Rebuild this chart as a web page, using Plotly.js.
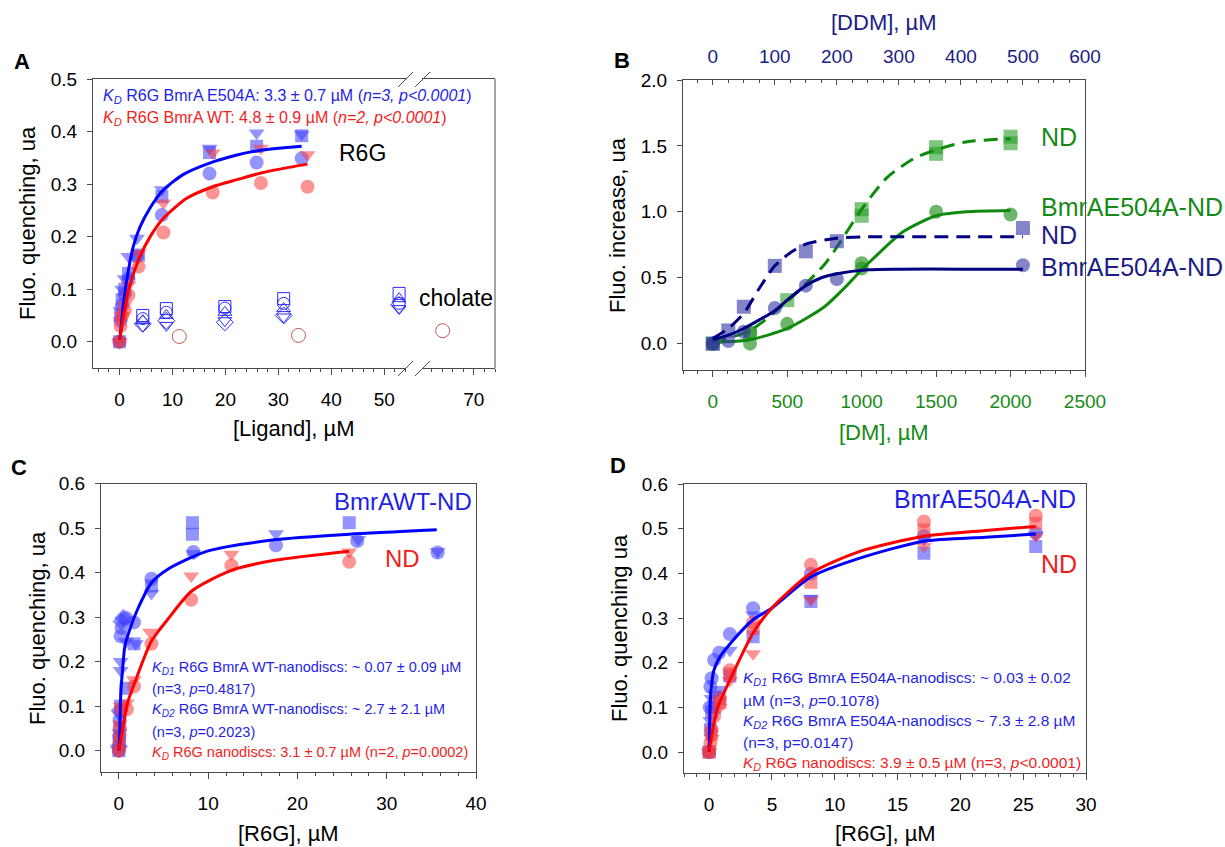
<!DOCTYPE html>
<html><head><meta charset="utf-8">
<script src="https://cdn.plot.ly/plotly-3.0.1.min.js"></script>
<style>html,body{margin:0;padding:0;background:#fff}#chart{width:1225px;height:847px}</style>
</head><body><div id="chart"></div>
<script>
// ---------- Panel A data : [Ligand] (µM) vs fluo quenching ----------
const A_E504A_x_circ = [0, 0.2, 0.5, 1.0, 1.7, 3.3, 8, 17, 25.9, 34.4];
const A_E504A_y_circ = [0, 0.04, 0.07, 0.09, 0.12, 0.162, 0.241, 0.32, 0.341, 0.349];
const A_E504A_x_sq   = [0, 0.2, 0.5, 1.0, 1.7, 3.6, 8, 17, 25.9, 34.4];
const A_E504A_y_sq   = [0, 0.05, 0.08, 0.10, 0.13, 0.165, 0.276, 0.36, 0.372, 0.392];
const A_E504A_x_tri  = [0, 0.2, 0.5, 1.0, 1.7, 3.3, 8, 17, 25.9, 34.4];
const A_E504A_y_tri  = [0, 0.06, 0.10, 0.12, 0.162, 0.197, 0.289, 0.368, 0.397, 0.395];
const A_WT_x_circ = [0, 0.2, 0.5, 1.0, 1.7, 3.6, 8.3, 17.6, 26.7, 35.5];
const A_WT_y_circ = [0, 0.03, 0.05, 0.06, 0.089, 0.143, 0.208, 0.284, 0.302, 0.295];
const A_WT_x_tri  = [0, 0.2, 0.5, 1.0, 1.7, 3.6, 8.3, 17.6, 26.7, 35.5];
const A_WT_y_tri  = [0, 0.04, 0.05, 0.07, 0.108, 0.168, 0.264, 0.359, 0.368, 0.356];
const A_fitE504A_x = [0.05, 0.25, 0.75, 1.7, 2.6, 3.9, 5.8, 8, 12, 17, 22, 25.9, 30, 34.4];
const A_fitE504A_y = [0.005, 0.022, 0.073, 0.137, 0.181, 0.219, 0.255, 0.286, 0.318, 0.34, 0.355, 0.363, 0.368, 0.372];
const A_fitWT_x = [0.05, 0.6, 1.1, 1.7, 3.6, 5.8, 8.3, 12.7, 17.6, 22, 26.7, 30, 35.5];
const A_fitWT_y = [0.003, 0.04, 0.067, 0.098, 0.156, 0.2, 0.235, 0.273, 0.295, 0.308, 0.321, 0.328, 0.338];
const A_chol_x      = [4.4, 8.85, 19.9, 31, 52.8];
const A_chol_sq     = [0.05, 0.063, 0.067, 0.082, 0.092];
const A_chol_circ   = [0.044, 0.056, 0.064, 0.073, 0.073];
const A_chol_triup  = [0.04, 0.05, 0.056, 0.063, 0.082];
const A_chol_dia    = [0.034, 0.04, 0.037, 0.05, 0.07];
const A_chol_tridn  = [0.03, 0.031, 0.04, 0.047, 0.063];
const A_cholWT_x = [11.3, 33.8, 64.1];
const A_cholWT_y = [0.01, 0.012, 0.021];
const A_xticks1 = [0, 10, 20, 30, 40, 50];
const A_xticks2 = [70];

// ---------- Panel B data : detergent (µM) vs fluo increase ----------
const B_DDM_x_sq   = [0, 25, 50, 100, 150, 200, 500];
const B_DDM_y_sq   = [0, 0.10, 0.28, 0.59, 0.70, 0.777, 0.877];
const B_DDM_x_circ = [0, 25, 50, 100, 150, 200, 500];
const B_DDM_y_circ = [0, 0.02, 0.09, 0.27, 0.44, 0.49, 0.595];
const B_DDM_fitND_x = [0, 25, 50, 75, 100, 125, 150, 200, 250, 300, 400, 500];
const B_DDM_fitND_y = [0.04, 0.115, 0.23, 0.42, 0.59, 0.69, 0.755, 0.80, 0.81, 0.81, 0.81, 0.81];
const B_DDM_fitE_x = [0, 25, 50, 75, 100, 125, 150, 175, 200, 250, 300, 400, 500];
const B_DDM_fitE_y = [0.03, 0.064, 0.115, 0.18, 0.25, 0.35, 0.44, 0.5, 0.53, 0.56, 0.565, 0.565, 0.565];
const B_DM_x_sq   = [0, 250, 500, 1000, 1000, 1500, 1500, 2000, 2000];
const B_DM_y_sq   = [0, 0.08, 0.33, 1.02, 0.97, 1.49, 1.44, 1.57, 1.52];
const B_DM_x_circ = [0, 250, 250, 500, 1000, 1000, 1500, 2000];
const B_DM_y_circ = [0, 0.0, 0.08, 0.15, 0.61, 0.57, 1.0, 0.98];
const B_DM_fitND_x = [0, 250, 500, 750, 850, 1000, 1170, 1360, 1500, 1700, 2000];
const B_DM_fitND_y = [0.01, 0.1, 0.32, 0.6, 0.76, 1.02, 1.26, 1.41, 1.47, 1.53, 1.555];
const B_DM_fitE_x = [0, 250, 500, 750, 900, 1000, 1120, 1280, 1500, 1700, 2000];
const B_DM_fitE_y = [0.01, 0.03, 0.115, 0.28, 0.44, 0.56, 0.69, 0.85, 0.97, 1.0, 1.01];

// ---------- Panel C data : [R6G] (µM), BmrA WT nanodiscs ----------
const C_WT_x_circ = [0, 0.05, 0.1, 0.2, 0.3, 0.8, 1.7, 3.65, 8.35, 17.6, 26.7, 35.7];
const C_WT_y_circ = [0, 0.03, 0.07, 0.257, 0.276, 0.298, 0.288, 0.386, 0.446, 0.461, 0.471, 0.445];
const C_WT_x_sq   = [0, 0.05, 0.1, 0.2, 0.8, 1.7, 3.65, 8.24, 8.24, 25.8];
const C_WT_y_sq   = [0, 0.02, 0.05, 0.10, 0.14, 0.24, 0.37, 0.512, 0.486, 0.512];
const C_WT_x_tri  = [0, 0.05, 0.1, 0.2, 0.2, 0.8, 1.9, 3.65, 8.35, 17.6, 26.8, 35.7];
const C_WT_y_tri  = [0, 0.04, 0.08, 0.18, 0.20, 0.245, 0.24, 0.353, 0.443, 0.487, 0.474, 0.447];
const C_WT_x_dia  = [0, 0.1, 0.3, 0.5];
const C_WT_y_dia  = [0.01, 0.09, 0.29, 0.298];
const C_ND_x_circ = [0, 0.05, 0.1, 0.2, 0.9, 1.7, 3.65, 8.1, 12.6, 25.8];
const C_ND_y_circ = [0, 0.02, 0.05, 0.093, 0.093, 0.144, 0.24, 0.339, 0.416, 0.424];
const C_ND_x_tri  = [0, 0.05, 0.1, 0.2, 0.9, 1.7, 3.5, 8.1, 12.6, 25.8];
const C_ND_y_tri  = [0, 0.03, 0.06, 0.10, 0.107, 0.159, 0.266, 0.392, 0.441, 0.446];
const C_fitWT_x = [0, 0.075, 0.22, 0.41, 0.67, 1.34, 2.09, 3.65, 5.44, 9.9, 17.6, 25.8, 35.6];
const C_fitWT_y = [0, 0.024, 0.13, 0.18, 0.234, 0.279, 0.317, 0.377, 0.407, 0.448, 0.474, 0.486, 0.496];
const C_fitND_x = [0, 0.41, 0.97, 1.9, 3.65, 5.44, 8.13, 12.6, 17.6, 25.8];
const C_fitND_y = [0, 0.047, 0.107, 0.159, 0.246, 0.294, 0.358, 0.405, 0.428, 0.448];

// ---------- Panel D data : [R6G] (µM), BmrA E504A nanodiscs ----------
const D_E_x_circ = [0, 0.05, 0.1, 0.2, 0.4, 0.8, 1.65, 3.5, 8.1, 17.1, 26];
const D_E_y_circ = [0, 0.10, 0.146, 0.165, 0.206, 0.222, 0.264, 0.322, 0.399, 0.483, 0.49];
const D_E_x_sq   = [0, 0.1, 0.2, 0.4, 0.8, 1.65, 3.5, 8.1, 17.1, 26];
const D_E_y_sq   = [0, 0.05, 0.09, 0.10, 0.12, 0.17, 0.258, 0.337, 0.445, 0.46];
const D_E_x_tri  = [0, 0.1, 0.2, 0.4, 0.8, 1.65, 3.5, 8.1, 17.1, 26];
const D_E_y_tri  = [0, 0.07, 0.12, 0.13, 0.14, 0.228, 0.307, 0.344, 0.475, 0.486];
const D_ND_x_circ = [0, 0.1, 0.2, 0.4, 0.86, 1.65, 3.5, 8.1, 17.1, 26];
const D_ND_y_circ = [0, 0.02, 0.05, 0.08, 0.12, 0.183, 0.29, 0.419, 0.516, 0.529];
const D_ND_x_sq   = [0, 0.2, 0.86, 1.65, 3.5, 8.1, 17.1, 26];
const D_ND_y_sq   = [0, 0.04, 0.11, 0.175, 0.277, 0.38, 0.497, 0.512];
const D_ND_x_tri  = [0, 0.2, 0.86, 1.65, 3.5, 8.1, 17.1, 26];
const D_ND_y_tri  = [0, 0.03, 0.10, 0.16, 0.22, 0.34, 0.46, 0.483];
const D_fitE_x = [0, 0.13, 0.38, 0.86, 1.81, 3.49, 4.98, 8.1, 12, 17.1, 22, 26];
const D_fitE_y = [0, 0.131, 0.183, 0.213, 0.247, 0.296, 0.322, 0.392, 0.434, 0.472, 0.481, 0.488];
const D_fitND_x = [0, 0.32, 0.7, 1.65, 3.49, 4.98, 8.1, 12, 17.1, 22, 26];
const D_fitND_y = [0, 0.056, 0.101, 0.161, 0.266, 0.322, 0.40, 0.449, 0.483, 0.496, 0.505];

// ---------- helpers ----------
const W = 1225, H = 847;
const px = x => x / W;
const py = y => 1 - y / H;
const FONT = 'Liberation Sans, Arial, sans-serif';
const BLUE_M = 'rgba(60,60,255,0.55)', RED_M = 'rgba(250,60,60,0.55)';
const NAVY_M = 'rgba(50,50,165,0.6)', GREEN_M = 'rgba(30,145,30,0.65)';
const BLUE_L = '#0000ff', RED_L = '#ff0000', NAVY_L = '#000080', GREEN_L = '#0f8a0f';
const BLUE_T = '#1f1fe6', RED_T = '#f01e1e', NAVY_T = '#1c1c86', GREEN_T = '#168a16';
const A_BREAK = 57;

function pts(x, y, sym, col, xa, ya, size) {
  return {type: 'scatter', mode: 'markers', x: x, y: y, xaxis: xa, yaxis: ya, hoverinfo: 'skip',
    marker: {symbol: sym, color: col, size: size || 13, line: {width: 0}}};
}
function openPts(x, y, sym, col, xa, ya, size) {
  return {type: 'scatter', mode: 'markers', x: x, y: y, xaxis: xa, yaxis: ya, hoverinfo: 'skip',
    marker: {symbol: sym, color: col, size: size || 12, line: {width: 1, color: col}}};
}
function fit(x, y, col, xa, ya, dash) {
  return {type: 'scatter', mode: 'lines', x: x, y: y, xaxis: xa, yaxis: ya, hoverinfo: 'skip',
    line: {color: col, width: 3, shape: 'spline', smoothing: 0.7, dash: dash || 'solid'}};
}
function splitSeg(xs, ys, lo) {
  const ox = [], oy = [];
  xs.forEach((v, i) => { if ((lo && v < A_BREAK) || (!lo && v >= A_BREAK)) { ox.push(v); oy.push(ys[i]); } });
  return [ox, oy];
}

const traces = [];
traces.push(openPts(A_chol_x, A_chol_sq, 'square-open', '#2a2aff', 'x', 'y', 12));
traces.push(openPts(A_chol_x, A_chol_circ, 'circle-open', '#2a2aff', 'x', 'y', 12));
traces.push(openPts(A_chol_x, A_chol_triup, 'triangle-up-open', '#2a2aff', 'x', 'y', 12));
traces.push(openPts(A_chol_x, A_chol_dia, 'diamond-open', '#2a2aff', 'x', 'y', 13));
traces.push(openPts(A_chol_x, A_chol_tridn, 'triangle-down-open', '#2a2aff', 'x', 'y', 12));
let s1 = splitSeg(A_cholWT_x, A_cholWT_y, true), s2 = splitSeg(A_cholWT_x, A_cholWT_y, false);
traces.push(openPts(s1[0], s1[1], 'circle-open', '#c05a5a', 'x', 'y', 14));
traces.push(openPts(s2[0], s2[1], 'circle-open', '#c05a5a', 'x2', 'y', 14));
traces.push(pts(A_E504A_x_circ, A_E504A_y_circ, 'circle', BLUE_M, 'x', 'y', 14));
traces.push(pts(A_E504A_x_sq, A_E504A_y_sq, 'square', BLUE_M, 'x', 'y', 13));
traces.push(pts(A_E504A_x_tri, A_E504A_y_tri, 'triangle-down', BLUE_M, 'x', 'y', 14));
traces.push(pts(A_WT_x_circ, A_WT_y_circ, 'circle', RED_M, 'x', 'y', 14));
traces.push(pts(A_WT_x_tri, A_WT_y_tri, 'triangle-down', RED_M, 'x', 'y', 14));
traces.push(fit(A_fitE504A_x, A_fitE504A_y, BLUE_L, 'x', 'y'));
traces.push(fit(A_fitWT_x, A_fitWT_y, RED_L, 'x', 'y'));
traces.push(pts(B_DM_x_sq, B_DM_y_sq, 'square', 'rgba(40,160,40,0.6)', 'x3', 'y2', 14));
traces.push(pts(B_DM_x_circ, B_DM_y_circ, 'circle', GREEN_M, 'x3', 'y2', 14));
traces.push(pts(B_DDM_x_sq, B_DDM_y_sq, 'square', NAVY_M, 'x4', 'y2', 14));
traces.push(pts(B_DDM_x_circ, B_DDM_y_circ, 'circle', NAVY_M, 'x4', 'y2', 14));
traces.push(fit(B_DM_fitND_x, B_DM_fitND_y, GREEN_L, 'x3', 'y2', '14px,8px'));
traces.push(fit(B_DM_fitE_x, B_DM_fitE_y, GREEN_L, 'x3', 'y2'));
traces.push(fit(B_DDM_fitND_x, B_DDM_fitND_y, NAVY_L, 'x4', 'y2', '14px,8px'));
traces.push(fit(B_DDM_fitE_x, B_DDM_fitE_y, NAVY_L, 'x4', 'y2'));
traces.push(pts(C_WT_x_sq, C_WT_y_sq, 'square', BLUE_M, 'x5', 'y3', 13));
traces.push(pts(C_WT_x_dia, C_WT_y_dia, 'diamond', BLUE_M, 'x5', 'y3', 14));
traces.push(pts(C_WT_x_circ, C_WT_y_circ, 'circle', BLUE_M, 'x5', 'y3', 14));
traces.push(pts(C_WT_x_tri, C_WT_y_tri, 'triangle-down', BLUE_M, 'x5', 'y3', 14));
traces.push(pts(C_ND_x_circ, C_ND_y_circ, 'circle', RED_M, 'x5', 'y3', 14));
traces.push(pts(C_ND_x_tri, C_ND_y_tri, 'triangle-down', RED_M, 'x5', 'y3', 14));
traces.push(fit(C_fitWT_x, C_fitWT_y, BLUE_L, 'x5', 'y3'));
traces.push(fit(C_fitND_x, C_fitND_y, RED_L, 'x5', 'y3'));
traces.push(pts(D_E_x_sq, D_E_y_sq, 'square', BLUE_M, 'x6', 'y4', 13));
traces.push(pts(D_E_x_circ, D_E_y_circ, 'circle', BLUE_M, 'x6', 'y4', 14));
traces.push(pts(D_E_x_tri, D_E_y_tri, 'triangle-down', BLUE_M, 'x6', 'y4', 14));
traces.push(pts(D_ND_x_sq, D_ND_y_sq, 'square', RED_M, 'x6', 'y4', 13));
traces.push(pts(D_ND_x_circ, D_ND_y_circ, 'circle', RED_M, 'x6', 'y4', 14));
traces.push(pts(D_ND_x_tri, D_ND_y_tri, 'triangle-down', RED_M, 'x6', 'y4', 14));
traces.push(fit(D_fitE_x, D_fitE_y, BLUE_L, 'x6', 'y4'));
traces.push(fit(D_fitND_x, D_fitND_y, RED_L, 'x6', 'y4'));

const LC = '#4a4a4a';
const tickF = (s, c) => ({family: FONT, size: s, color: c || '#000'});
function xax(dom, range, anchor, extra) {
  const o = {range: range, anchor: anchor, showgrid: false, zeroline: false,
    showline: true, linecolor: LC, linewidth: 1, ticks: 'outside', ticklen: 6, tickcolor: LC,
    tickfont: tickF(19), ticklabelstandoff: 6, fixedrange: true};
  if (dom) o.domain = dom;
  return Object.assign(o, extra || {});
}
function yax(dom, range, anchor, extra) {
  return Object.assign({domain: dom, range: range, anchor: anchor, showgrid: false, zeroline: false,
    showline: true, linecolor: LC, linewidth: 1, ticks: 'outside', ticklen: 5, tickcolor: LC,
    tickfont: tickF(19), tickformat: '.1f', ticklabelstandoff: 6, fixedrange: true}, extra || {});
}
const topTicks = (base, range, vals) => xax(null, range, 'y', {overlaying: base, side: 'top', tickmode: 'array',
  tickvals: vals, ticks: 'inside', ticklen: 5, showticklabels: false, showline: false,
  minor: {dtick: 2, tick0: 0, ticks: 'inside', ticklen: 3, tickcolor: LC}});

const layout = {
  width: W, height: H, margin: {l: 0, r: 0, t: 0, b: 0},
  paper_bgcolor: '#fff', plot_bgcolor: 'rgba(0,0,0,0)', showlegend: false,
  font: {family: FONT, color: '#000'},
  xaxis: xax([px(93), px(406)], [-5, 54.1], 'y', {tickmode: 'array', tickvals: A_xticks1, mirror: true,
    minor: {dtick: 2, tick0: 0, ticks: 'outside', ticklen: 3, tickcolor: LC}, ticklabelstandoff: 8}),
  xaxis2: xax([px(422), px(495)], [60.2, 74], 'y', {tickmode: 'array', tickvals: A_xticks2, mirror: true,
    minor: {dtick: 2, tick0: 0, ticks: 'outside', ticklen: 3, tickcolor: LC}, ticklabelstandoff: 8}),
  xaxis7: topTicks('x', [-5, 54.1], A_xticks1),
  xaxis8: topTicks('x2', [60.2, 74], A_xticks2),
  yaxis: yax([py(368), py(79)], [-0.05, 0.5], 'x', {dtick: 0.1, tick0: 0}),
  xaxis3: xax([px(683), px(1085)], [-200, 2500], 'y2', {dtick: 500, tick0: 0, tickfont: tickF(19, GREEN_T),
    minor: {dtick: 100, ticks: 'outside', ticklen: 3, tickcolor: LC}, ticklabelstandoff: 8}),
  xaxis4: xax(null, [-48, 600], 'y2', {overlaying: 'x3', side: 'top', dtick: 100, tick0: 0, ticks: 'inside',
    ticklen: 5, tickfont: tickF(19, NAVY_T), minor: {dtick: 25, ticks: 'inside', ticklen: 3, tickcolor: LC}, ticklabelstandoff: 8}),
  yaxis2: yax([py(370), py(80)], [-0.2, 2.0], 'x3', {dtick: 0.5, tick0: 0, mirror: true}),
  xaxis5: xax([px(101), px(476)], [-2, 40], 'y3', {dtick: 10, tick0: 0, mirror: true,
    minor: {dtick: 2, ticks: 'outside', ticklen: 3, tickcolor: LC}, ticklabelstandoff: 8}),
  yaxis3: yax([py(772), py(483.5)], [-0.048, 0.6], 'x5', {dtick: 0.1, tick0: 0, mirror: true}),
  xaxis6: xax([px(684), px(1086)], [-2, 30], 'y4', {dtick: 5, tick0: 0, mirror: true,
    minor: {dtick: 1, ticks: 'outside', ticklen: 3, tickcolor: LC}, ticklabelstandoff: 8}),
  yaxis4: yax([py(773), py(484)], [-0.047, 0.6], 'x6', {dtick: 0.1, tick0: 0, mirror: true}),
  shapes: [
    {type: 'line', xref: 'paper', yref: 'paper', x0: px(495), x1: px(495), y0: py(79), y1: py(368), line: {color: LC, width: 1}},
    {type: 'line', xref: 'paper', yref: 'paper', x0: px(398), y0: py(87), x1: px(413), y1: py(72), line: {color: LC, width: 1}},
    {type: 'line', xref: 'paper', yref: 'paper', x0: px(415), y0: py(87), x1: px(430), y1: py(72), line: {color: LC, width: 1}},
    {type: 'line', xref: 'paper', yref: 'paper', x0: px(398), y0: py(376), x1: px(413), y1: py(361), line: {color: LC, width: 1}},
    {type: 'line', xref: 'paper', yref: 'paper', x0: px(415), y0: py(376), x1: px(430), y1: py(361), line: {color: LC, width: 1}}
  ],
  annotations: []
};

function ann(text, x, y, opts) {
  layout.annotations.push(Object.assign({text: text, xref: 'paper', yref: 'paper', x: px(x), y: py(y),
    showarrow: false, xanchor: 'left', yanchor: 'middle', font: {family: FONT, size: 15, color: '#000'}}, opts || {}));
}
const f = (s, c) => ({family: FONT, size: s, color: c});
ann('<b>A</b>', 12, 62, {font: f(22, '#000')});
ann('<b>B</b>', 612, 60, {font: f(22, '#000')});
ann('<b>C</b>', 9, 467, {font: f(22, '#000')});
ann('<b>D</b>', 608, 465, {font: f(22, '#000')});
ann('Fluo. quenching, ua', 27, 223, {xanchor: 'center', textangle: -90, font: f(22, '#000')});
ann('[Ligand], µM', 294, 428, {xanchor: 'center', font: f(22, '#000')});
ann('Fluo. increase, ua', 617, 225, {xanchor: 'center', textangle: -90, font: f(22, '#000')});
ann('[DDM], µM', 884, 22, {xanchor: 'center', font: f(22, NAVY_T)});
ann('[DM], µM', 884, 432, {xanchor: 'center', font: f(22, GREEN_T)});
ann('Fluo. quenching, ua', 37, 628, {xanchor: 'center', textangle: -90, font: f(22, '#000')});
ann('[R6G], µM', 288, 833, {xanchor: 'center', font: f(22, '#000')});
ann('Fluo. quenching ua', 619, 628, {xanchor: 'center', textangle: -90, font: f(22, '#000')});
ann('[R6G], µM', 885, 833, {xanchor: 'center', font: f(22, '#000')});
ann('<i>K<sub>D</sub></i> R6G BmrA E504A: 3.3 ± 0.7 µM (<i>n=3, p&lt;0.0001</i>)', 101, 97, {font: f(16, BLUE_T)});
ann('<i>K<sub>D</sub></i> R6G BmrA WT: 4.8 ± 0.9 µM (<i>n=2, p&lt;0.0001</i>)', 101, 119, {font: f(16, RED_T)});
ann('R6G', 337, 153, {font: f(23, '#000')});
ann('cholate', 417, 298, {font: f(23, '#000')});
ann('ND', 1039, 137, {font: f(25, GREEN_T)});
ann('BmrAE504A-ND', 1039, 207, {font: f(25, GREEN_T)});
ann('ND', 1039, 235, {font: f(25, NAVY_T)});
ann('BmrAE504A-ND', 1039, 267, {font: f(25, NAVY_T)});
ann('BmrAWT-ND', 332, 502, {font: f(24, BLUE_T)});
ann('ND', 383, 558, {font: f(24, RED_T)});
ann('<i>K<sub>D1</sub></i> R6G BmrA WT-nanodiscs: ~ 0.07 ± 0.09 µM', 150, 668, {font: f(14.5, BLUE_T)});
ann('(n=3, <i>p</i>=0.4817)', 150, 689, {font: f(14.5, BLUE_T)});
ann('<i>K<sub>D2</sub></i> R6G BmrA WT-nanodiscs: ~ 2.7 ± 2.1 µM', 150, 710, {font: f(14.5, BLUE_T)});
ann('(n=3, <i>p</i>=0.2023)', 150, 732, {font: f(14.5, BLUE_T)});
ann('<i>K<sub>D</sub></i> R6G nanodiscs: 3.1 ± 0.7 µM (n=2, <i>p</i>=0.0002)', 150, 753, {font: f(14.5, RED_T)});
ann('BmrAE504A-ND', 892, 499, {font: f(25, BLUE_T)});
ann('ND', 1039, 564, {font: f(25, RED_T)});
ann('<i>K<sub>D1</sub></i> R6G BmrA E504A-nanodiscs: ~ 0.03 ± 0.02', 741, 678, {font: f(15.5, BLUE_T)});
ann('µM (n=3, <i>p</i>=0.1078)', 741, 700, {font: f(15.5, BLUE_T)});
ann('<i>K<sub>D2</sub></i> R6G BmrA E504A-nanodiscs ~ 7.3 ± 2.8 µM', 741, 721, {font: f(15.5, BLUE_T)});
ann('(n=3, p=0.0147)', 741, 742, {font: f(15.5, BLUE_T)});
ann('<i>K<sub>D</sub></i> R6G nanodiscs: 3.9 ± 0.5 µM (n=3, <i>p</i>&lt;0.0001)', 741, 763, {font: f(15.5, RED_T)});

Plotly.newPlot('chart', traces, layout, {staticPlot: true, displayModeBar: false});
</script></body></html>
